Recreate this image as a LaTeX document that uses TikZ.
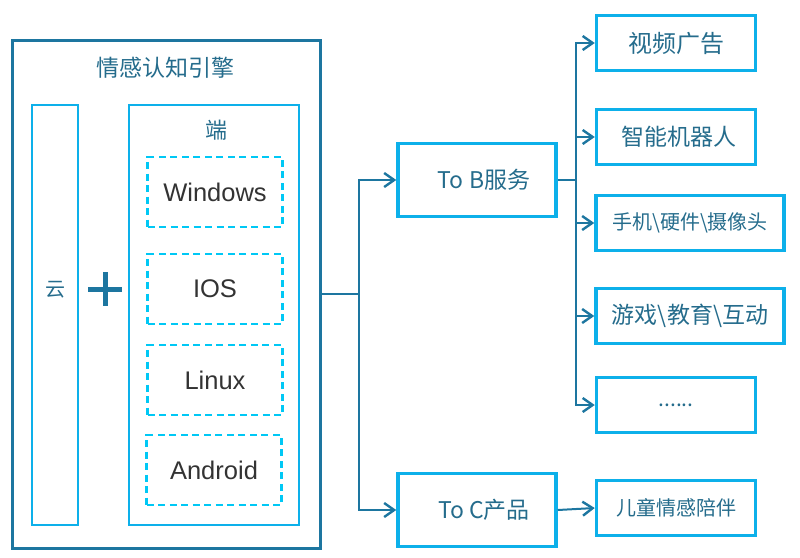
\documentclass[tikz,border=0pt]{standalone}
\usepackage{fontspec}
\setmainfont{Liberation Sans}
\newfontfamily\cjk{Noto Sans CJK SC}
\usetikzlibrary{arrows.meta}
\definecolor{dteal}{HTML}{1D76A0}
\definecolor{lblue}{HTML}{0DB0EA}
\definecolor{dcyan}{HTML}{00C8F5}
\definecolor{ctext}{HTML}{256C8C}
\definecolor{gtext}{HTML}{333333}
\tikzset{
  outerbox/.style={draw=dteal,line width=3pt,minimum width=308pt,minimum height=508pt,inner sep=0pt},
  inbox/.style={draw=lblue,line width=2pt,inner sep=0pt},
  dashbox/.style={draw=dcyan,line width=2.8pt,dash pattern=on 7pt off 4.5pt,minimum width=135pt,minimum height=70pt,inner sep=0pt,text=gtext,font=\fontsize{25.5}{28}\selectfont},
  rbox/.style={draw=lblue,line width=3.5pt,minimum height=55pt,inner sep=0pt,text=ctext},
  mbox/.style={draw=lblue,line width=3.5pt,minimum width=158pt,minimum height=73pt,inner sep=0pt,text=ctext,font=\cjk\fontsize{23}{26}\selectfont},
  lbl/.style={text=ctext,inner sep=0pt},
  conn/.style={draw=dteal,line width=2pt},
  arr/.style={conn,-{Straight Barb[length=10pt,width=14pt,line width=2.4pt]}}
}
\begin{document}
\begin{tikzpicture}[x=1pt,y=-1pt]
\useasboundingbox (0,0) rectangle (800,557);
% left block
\node[outerbox] (outer) at (166,294) {};
\node[lbl,font=\cjk\fontsize{23}{25}\selectfont] (title) at (165,68) {情感认知引擎};
\node[inbox,minimum width=46pt,minimum height=420pt] (cloud) at (55,315) {};
\node[lbl,font=\cjk\fontsize{20}{22}\selectfont] (yun) at (55,290) {云};
\node[inbox,minimum width=170pt,minimum height=420pt] (duan) at (214,315) {};
\node[lbl,font=\cjk\fontsize{22}{24}\selectfont] (duanl) at (216,130) {端};
\draw[dteal,line width=5pt] (88,289) -- (122,289) (105,272) -- (105,306);
\node[dashbox] (win) at (215,192) {Windows};
\node[dashbox] (ios) at (215,289) {IOS};
\node[dashbox] (lin) at (215,380) {Linux};
\node[dashbox] (and) at (214,470) {Android};
% middle
\node[mbox] (tob) at (477,180) {\hspace*{14pt}To B服务};
\node[mbox] (toc) at (477,510) {\hspace*{14pt}To C产品};
% right
\node[rbox,minimum width=159pt,font=\cjk\fontsize{24}{26}\selectfont] (r1) at (676,43) {视频广告};
\node[rbox,minimum width=159pt,font=\cjk\fontsize{23}{25}\selectfont] (r2) at (676,137) {\hspace*{6pt}智能机器人};
\node[rbox,minimum width=188pt,font=\cjk\fontsize{20}{22}\selectfont] (r3) at (690,223) {手机\textbackslash 硬件\textbackslash 摄像头};
\node[rbox,minimum width=188pt,font=\cjk\fontsize{23}{25}\selectfont] (r4) at (690,316) {游戏\textbackslash 教育\textbackslash 互动};
\node[rbox,minimum width=159pt,font=\cjk\fontsize{21}{23}\selectfont] (r5) at (676,405) {......};
\node[rbox,minimum width=159pt,font=\cjk\fontsize{20}{22}\selectfont] (r6) at (676,508) {儿童情感陪伴};
% connectors
\coordinate (j1) at (359,294);
\coordinate (j2) at (576,180);
\draw[conn] (outer.east) -- (j1);
\draw[arr] (j1) |- (tob.west);
\draw[arr] (j1) |- (toc.west);
\draw[conn] (tob.east) -- (j2);
\draw[arr] (j2) |- (r1.west);
\draw[arr] (j2) |- (r2.west);
\draw[arr] (j2) |- (r3.west);
\draw[arr] (j2) |- (r4.west);
\draw[arr] (j2) |- (r5.west);
\draw[arr] (toc.east) -- (r6.west);
\end{tikzpicture}
\end{document}
